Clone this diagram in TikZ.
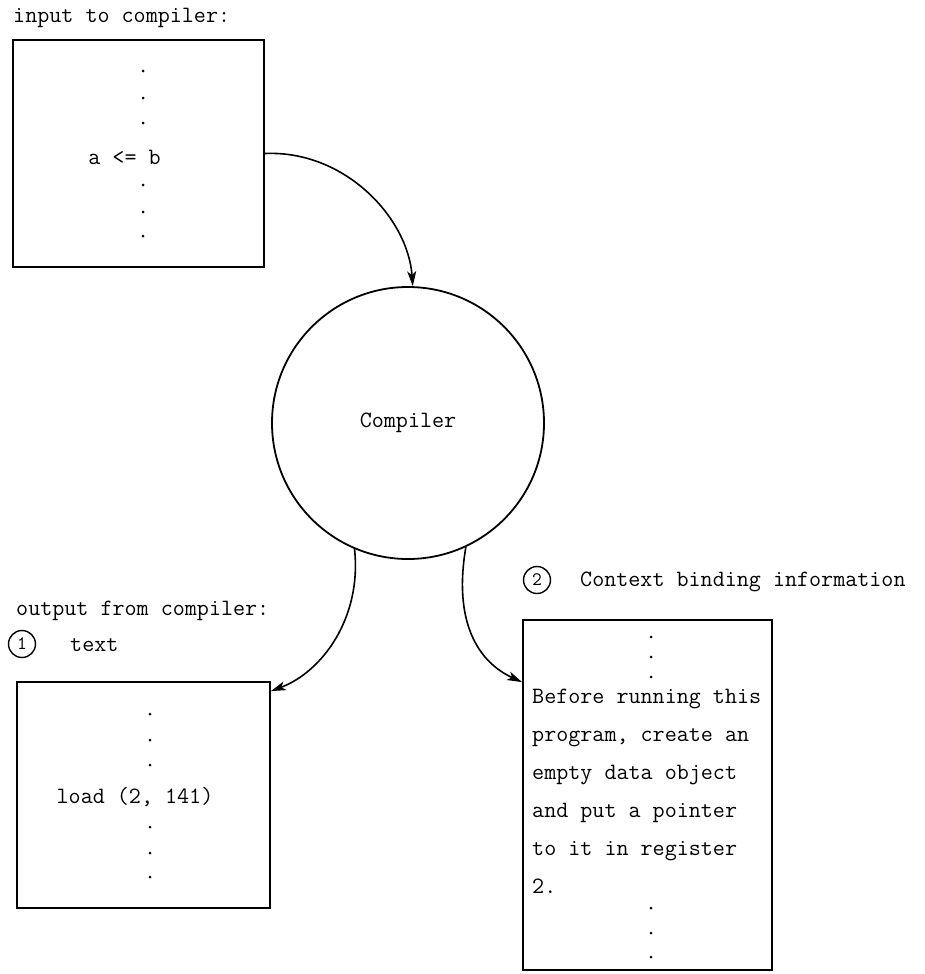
\documentclass[tikz,border=0pt]{standalone}
\usepackage{fontspec}
\usetikzlibrary{arrows.meta}
\tikzset{
  tt/.style={font=\fontsize{23.4}{28}\selectfont\ttfamily, inner sep=0pt},
  boxnode/.style={draw, line width=1.8pt, inner sep=0pt},
  dotmark/.style={circle, fill, inner sep=0pt, minimum size=3pt},
  numcirc/.style={circle, draw, line width=1.4pt, inner sep=0pt, minimum size=27pt, font=\fontsize{19}{22}\selectfont\ttfamily},
  conn/.style={line width=1.6pt, -{Stealth[length=15pt,width=9pt,inset=4pt]}}
}
\begin{document}
\begin{tikzpicture}[x=1pt,y=-1pt]
\useasboundingbox (0,0) rectangle (924,974);

% labels
\node[tt, anchor=base west] (inlab) at (13,23) {input to compiler:};
\node[tt, anchor=base west] (outlab) at (16,615) {output from compiler:};
\node[numcirc] (n1) at (22,644) {1};
\node[tt, anchor=base west] (txt) at (70,651) {text};
\node[numcirc] (n2) at (537,580) {2};
\node[tt, anchor=base west] (ctx) at (580,586) {Context binding information};

% box 1
\node[boxnode, minimum width=251pt, minimum height=227pt] (b1) at (138.5,153.5) {};
\node[dotmark] (d11) at (143,71) {};
\node[dotmark] (d12) at (143,98) {};
\node[dotmark] (d13) at (143,123) {};
\node[tt] (ab) at (124.5,157) {a <= b};
\node[dotmark] (d14) at (143,185) {};
\node[dotmark] (d15) at (143,212) {};
\node[dotmark] (d16) at (143,236) {};

% compiler
\node[circle, draw, line width=1.8pt, minimum size=272pt, tt] (comp) at (408,423) {Compiler};

% box 3
\node[boxnode, minimum width=253pt, minimum height=226pt] (b3) at (143.5,795) {};
\node[dotmark] (d31) at (150,714) {};
\node[dotmark] (d32) at (150,740) {};
\node[dotmark] (d33) at (150,765) {};
\node[tt] (ld) at (135,797) {load (2, 141)};
\node[dotmark] (d34) at (150,827) {};
\node[dotmark] (d35) at (150,853) {};
\node[dotmark] (d36) at (150,877) {};

% box 4
\node[boxnode, minimum width=249pt, minimum height=350pt] (b4) at (647.5,795) {};
\node[dotmark] (d41) at (651,637) {};
\node[dotmark] (d42) at (651,657) {};
\node[dotmark] (d43) at (651,677) {};
\node[tt, anchor=base west] (l1) at (532,703) {Before running this};
\node[tt, anchor=base west] (l2) at (532,741) {program, create an};
\node[tt, anchor=base west] (l3) at (532,779) {empty data object};
\node[tt, anchor=base west] (l4) at (532,817) {and put a pointer};
\node[tt, anchor=base west] (l5) at (532,855) {to it in register};
\node[tt, anchor=base west] (l6) at (532,893) {2.};
\node[dotmark] (d44) at (651,908) {};
\node[dotmark] (d45) at (651,933) {};
\node[dotmark] (d46) at (651,957) {};

% connectors
\draw[conn] (b1.east) .. controls (345,150) and (408,218) .. (comp.88);
\draw[conn] (comp.247) .. controls (362,618) and (322,672) .. ([yshift=-10pt]b3.north east);
\draw[conn] (comp.295) .. controls (453,622) and (478,662) .. ([yshift=-63pt]b4.north west);
\end{tikzpicture}
\end{document}
